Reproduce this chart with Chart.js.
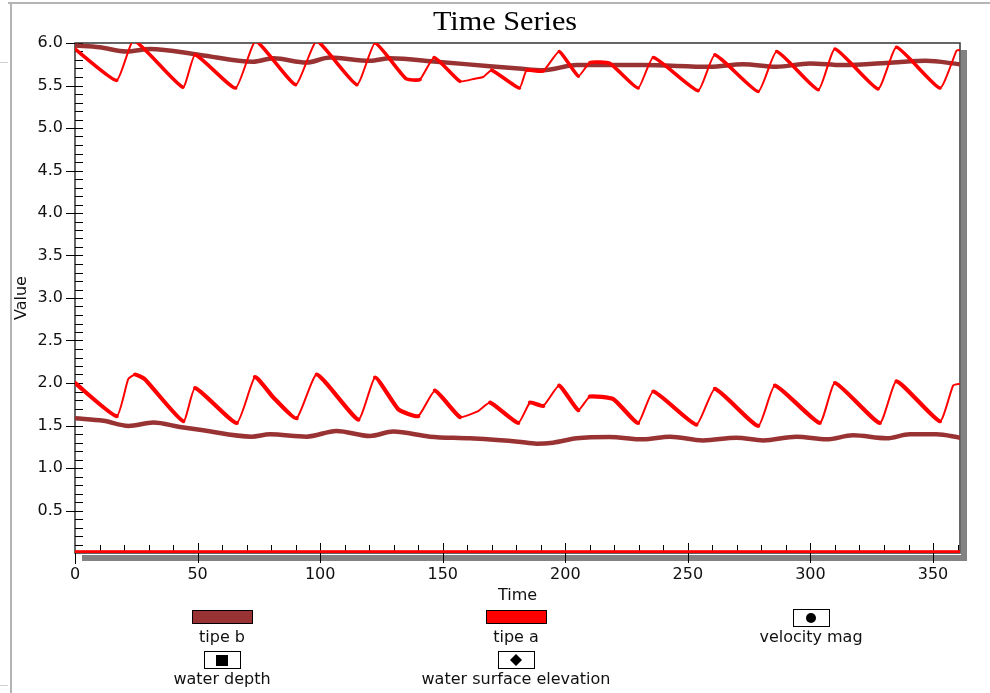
<!DOCTYPE html>
<html>
<head>
<meta charset="utf-8">
<script src="https://cdn.jsdelivr.net/npm/chart.js@4.4.0/dist/chart.umd.min.js"></script>
<style>
    body { margin: 0; background: #ffffff; }
    #wrap { width: 990px; height: 693px; }
</style>
</head>
<body>
<div id="wrap"><canvas id="tsChart" width="990" height="693"></canvas></div>
<script>
// values
const wseATime = [0, 17, 24, 44, 49, 65.5, 73.7, 90, 98.6, 115, 122.4, 135, 140.7, 146.5, 157, 163, 166.5, 170, 181.3, 184.2, 191, 197.5, 205.3, 210, 218.2, 229.7, 235.9, 254.2, 261, 278.7, 286.2, 303.2, 310, 327.6, 335.1, 352.8, 359.6, 361];
const wseAValue = [5.93, 5.56, 6.03, 5.48, 5.86, 5.47, 6.02, 5.51, 6.02, 5.51, 6.0, 5.58, 5.57, 5.83, 5.55, 5.58, 5.6, 5.68, 5.47, 5.68, 5.67, 5.90, 5.61, 5.77, 5.76, 5.47, 5.83, 5.44, 5.86, 5.43, 5.90, 5.45, 5.93, 5.46, 5.95, 5.47, 5.91, 5.92];

const depthATime = [0, 17, 21.7, 24.5, 28.5, 44.2, 49, 66, 73.4, 80.9, 90.4, 98.6, 115.6, 122.4, 131.9, 140, 146.8, 157, 164.5, 169.3, 180.8, 185.6, 191, 197.5, 205.3, 210, 219.6, 229.7, 235.9, 253.5, 261, 278.7, 285.5, 303.8, 310, 328.3, 335.1, 352.8, 358.2, 361];
const depthAValue = [2.0, 1.61, 2.045, 2.10, 2.045, 1.55, 1.94, 1.53, 2.07, 1.83, 1.585, 2.10, 1.57, 2.065, 1.69, 1.61, 1.91, 1.60, 1.67, 1.77, 1.53, 1.77, 1.73, 1.97, 1.68, 1.84, 1.81, 1.53, 1.90, 1.51, 1.93, 1.495, 1.97, 1.53, 2.0, 1.53, 2.02, 1.55, 1.97, 1.99];

const wseBTime = [0, 10, 21, 30.6, 51, 72.6, 81, 94.5, 104, 120.3, 128.5, 147.5, 168, 181, 191, 204.6, 231.7, 259, 272.5, 286, 299.8, 313, 333.7, 347, 361];
const wseBValue = [5.97, 5.95, 5.90, 5.93, 5.86, 5.78, 5.82, 5.77, 5.83, 5.79, 5.82, 5.78, 5.73, 5.70, 5.68, 5.74, 5.74, 5.72, 5.75, 5.72, 5.76, 5.74, 5.77, 5.79, 5.75];

const depthBTime = [0, 11.6, 21.8, 32, 42.8, 52.3, 72, 79.5, 94.5, 106.7, 120.3, 129.8, 144.8, 161, 180.8, 188.3, 195, 204.6, 218, 231.8, 242.7, 256.2, 269.8, 280.7, 294.3, 306.6, 317.4, 331, 340.5, 351.4, 361];
const depthBValue = [1.585, 1.555, 1.495, 1.534, 1.483, 1.443, 1.369, 1.396, 1.369, 1.436, 1.377, 1.428, 1.369, 1.349, 1.31, 1.286, 1.298, 1.349, 1.365, 1.337, 1.369, 1.325, 1.357, 1.325, 1.369, 1.337, 1.384, 1.349, 1.396, 1.396, 1.357];

const velTime = [0, 90, 180, 270, 361];
const velAValue = [0.015, 0.016, 0.015, 0.016, 0.015];
const velBValue = [0.01, 0.01, 0.01, 0.01, 0.01];

const seriesNames = ['tipe b', 'tipe a'];
const variableNames = ['velocity mag', 'water depth', 'water surface elevation'];
const xTicks = [0, 50, 100, 150, 200, 250, 300, 350];
const yTicks = [0.5, 1.0, 1.5, 2.0, 2.5, 3.0, 3.5, 4.0, 4.5, 5.0, 5.5, 6.0];

const BROWN = '#993333';
const RED = '#ff0000';
const FONT = 'DejaVu Sans';

function toPoints(times, values) {
    return times.map((t, i) => ({ x: t, y: values[i] }));
}

// thin on the quick rises, thick on the slow falls
function redSegment(thick) {
    return {
        borderWidth: ctx => (ctx.p1.parsed.y > ctx.p0.parsed.y ? 2 : thick)
    };
}

const decorPlugin = {
    id: 'decor',
    beforeDraw(chart) {
        const c = chart.ctx;
        c.save();
        c.fillStyle = '#ffffff';
        c.fillRect(0, 0, chart.width, chart.height);
        // window frame
        c.fillStyle = '#b4b4b4';
        c.fillRect(8, 2, chart.width - 8, 2);
        c.fillRect(10, 4, 2, chart.height - 4);
        c.fillStyle = '#d0d0d0';
        c.fillRect(0, 62, 8, 1);
        c.fillRect(0, 685, 8, 1);
        c.restore();
    },
    beforeDatasetsDraw(chart) {
        const c = chart.ctx;
        const a = chart.chartArea;
        c.save();
        // drop shadow
        c.fillStyle = '#828282';
        c.fillRect(a.right + 1, a.top + 7, 6, a.bottom - a.top + 1);
        c.fillRect(a.left + 7, a.bottom + 2, a.right - a.left, 6);
        // frame
        c.strokeStyle = '#333333';
        c.lineWidth = 1.5;
        c.strokeRect(a.left, a.top, a.right - a.left, a.bottom - a.top);
        // ticks
        const xs = chart.scales.x;
        const ys = chart.scales.y;
        c.strokeStyle = '#000000';
        c.lineWidth = 1;
        c.beginPath();
        for (let v = 10; v < 361; v += 10) {
            const px = Math.round(xs.getPixelForValue(v)) + 0.5;
            if (v % 50 === 0) {
                c.moveTo(px, a.bottom - 10);
                c.lineTo(px, a.bottom + 10);
            } else {
                c.moveTo(px, a.bottom - 8);
                c.lineTo(px, a.bottom);
            }
        }
        c.moveTo(a.left + 0.5, a.bottom);
        c.lineTo(a.left + 0.5, a.bottom + 11);
        for (let k = 1; k <= 60; k++) {
            const py = Math.round(ys.getPixelForValue(k / 10)) + 0.5;
            if (k % 5 === 0) {
                c.moveTo(a.left - 9, py);
                c.lineTo(a.left + 8, py);
            } else {
                c.moveTo(a.left, py);
                c.lineTo(a.left + 8, py);
            }
        }
        c.stroke();
        c.restore();
    },
    afterDraw(chart) {
        const c = chart.ctx;
        c.save();
        // title
        c.fillStyle = '#000000';
        c.font = '27px "Liberation Serif"';
        c.textAlign = 'center';
        c.textBaseline = 'alphabetic';
        c.translate(505, 30);
        c.scale(1.12, 1);
        c.fillText('Time Series', 0, 0);
        c.restore();

        // legend
        c.save();
        c.font = '16px "' + FONT + '"';
        c.textAlign = 'center';
        c.textBaseline = 'middle';
        c.lineWidth = 1;
        c.strokeStyle = '#000000';
        const cols = [222, 516, 811];
        const seriesColors = [BROWN, RED];
        seriesNames.forEach((name, i) => {
            c.fillStyle = seriesColors[i];
            c.fillRect(cols[i] - 30, 610, 61, 14);
            c.strokeRect(cols[i] - 30 + 0.5, 610.5, 60, 13);
            c.fillStyle = '#111111';
            c.fillText(name, cols[i], 638);
        });
        const slots = [[cols[2], 618, 638], [cols[0], 660, 680], [cols[1], 660, 680]];
        variableNames.forEach((name, i) => {
            const [cx, cy, ty] = slots[i];
            c.fillStyle = '#ffffff';
            c.fillRect(cx - 18, cy - 9, 36, 18);
            c.strokeRect(cx - 18 + 0.5, cy - 9 + 0.5, 36, 17);
            c.fillStyle = '#000000';
            c.beginPath();
            if (i === 0) {
                c.arc(cx, cy, 5, 0, Math.PI * 2);
            } else if (i === 1) {
                c.rect(cx - 6, cy - 5, 12, 11);
            } else {
                c.moveTo(cx, cy - 6);
                c.lineTo(cx + 6, cy);
                c.lineTo(cx, cy + 6);
                c.lineTo(cx - 6, cy);
                c.closePath();
            }
            c.fill();
            c.fillStyle = '#111111';
            c.fillText(name, cx, ty);
        });
        c.restore();
    }
};

new Chart(document.getElementById('tsChart').getContext('2d'), {
    type: 'line',
    data: {
        datasets: [
            {
                label: 'tipe a - water surface elevation',
                data: toPoints(wseATime, wseAValue),
                borderColor: RED,
                borderWidth: 3,
                tension: 0.15,
                segment: redSegment(3.6)
            },
            {
                label: 'tipe a - water depth',
                data: toPoints(depthATime, depthAValue),
                borderColor: RED,
                borderWidth: 3,
                tension: 0.15,
                segment: redSegment(4.2)
            },
            {
                label: 'tipe a - velocity mag',
                data: toPoints(velTime, velAValue),
                borderColor: RED,
                borderWidth: 3
            },
            {
                label: 'tipe b - water surface elevation',
                data: toPoints(wseBTime, wseBValue),
                borderColor: BROWN,
                borderWidth: 4.5,
                cubicInterpolationMode: 'monotone'
            },
            {
                label: 'tipe b - water depth',
                data: toPoints(depthBTime, depthBValue),
                borderColor: BROWN,
                borderWidth: 4.5,
                cubicInterpolationMode: 'monotone'
            },
            {
                label: 'tipe b - velocity mag',
                data: toPoints(velTime, velBValue),
                borderColor: BROWN,
                borderWidth: 3
            }
        ]
    },
    options: {
        responsive: false,
        animation: false,
        elements: {
            point: { radius: 0 },
            line: { borderCapStyle: 'round', borderJoinStyle: 'round' }
        },
        layout: {
            padding: { top: 43, right: 30, bottom: 80, left: 0 }
        },
        plugins: {
            legend: { display: false },
            title: { display: false },
            tooltip: { enabled: false }
        },
        scales: {
            x: {
                type: 'linear',
                min: 0,
                max: 361,
                afterFit: s => { s.height = 60; },
                afterBuildTicks: s => { s.ticks = xTicks.map(v => ({ value: v })); },
                grid: { display: false, drawTicks: false },
                border: { display: false },
                ticks: {
                    padding: 12,
                    color: '#111111',
                    font: { family: FONT, size: 16 }
                },
                title: {
                    display: true,
                    text: 'Time',
                    color: '#111111',
                    font: { family: FONT, size: 16 },
                    padding: { top: 0, bottom: 8 }
                }
            },
            y: {
                min: 0,
                max: 6,
                afterFit: s => { s.width = 75; },
                afterBuildTicks: s => { s.ticks = yTicks.map(v => ({ value: v })); },
                grid: { display: false, drawTicks: false },
                border: { display: false },
                ticks: {
                    padding: 12,
                    color: '#111111',
                    font: { family: FONT, size: 16 },
                    callback: v => Number(v).toFixed(1)
                },
                title: {
                    display: true,
                    text: 'Value',
                    color: '#111111',
                    font: { family: FONT, size: 16 },
                    padding: { top: 12, bottom: 0 }
                }
            }
        }
    },
    plugins: [decorPlugin]
});
</script>
</body>
</html>
